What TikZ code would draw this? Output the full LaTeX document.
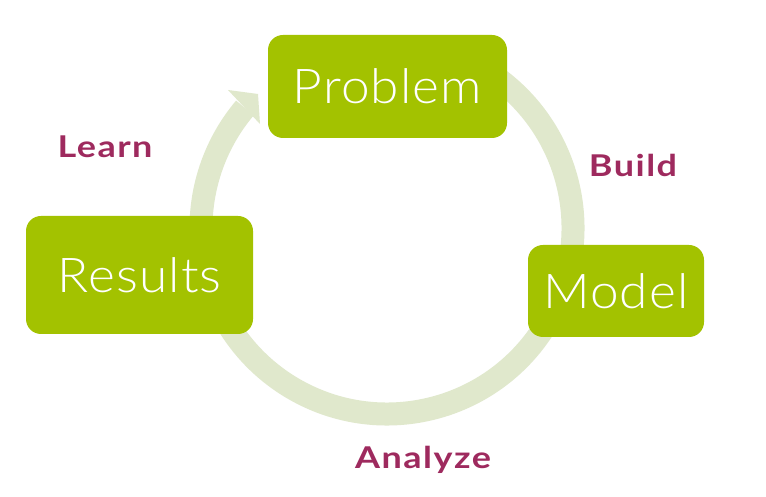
\documentclass[tikz,border=0pt]{standalone}
\usepackage{fontspec}
\setmainfont{Lato}
\newfontfamily\boxfont{Lato Light}[FakeStretch=1.07, LetterSpace=2.5]
\newfontfamily\labelfont{Lato Bold}[FakeStretch=1.2, LetterSpace=5]
\definecolor{boxgreen}{RGB}{163,194,0}
\definecolor{ringgreen}{RGB}{224,232,204}
\definecolor{labelred}{RGB}{158,42,94}
\begin{document}
\begin{tikzpicture}[x=1pt,y=1pt,
  stagebox/.style={rectangle, rounded corners=15pt, fill=boxgreen, text=white,
    inner sep=0pt, font=\boxfont\fontsize{48}{48}\selectfont},
  steplabel/.style={text=labelred, inner sep=0pt, anchor=base,
    font=\labelfont\fontsize{30}{30}\selectfont}]
\useasboundingbox (0,0) rectangle (766,497);
\fill[white] (0,0) rectangle (766,497);
\coordinate (ctr) at (387,269);
% ring
\draw[ringgreen, line width=23pt] (ctr) ++(60:186) arc[start angle=60, end angle=-220.2, radius=186];
\coordinate (barbout) at (228,407);
\coordinate (tip) at (258,403);
\coordinate (barbin) at (260,373);
\fill[ringgreen] (barbout) -- (tip) -- (barbin) -- cycle;
% boxes
\node[stagebox, minimum width=239pt, minimum height=103pt] (problem) at (387.5,410.5) {Problem};
\node[stagebox, minimum width=176pt, minimum height=92pt] (model) at (616,206) {Model};
\node[stagebox, minimum width=227pt, minimum height=118pt] (results) at (139.5,222) {Results};
% labels
\node[steplabel] (learn) at (105,339) {Learn};
\node[steplabel] (build) at (633,320) {Build};
\node[steplabel] (analyze) at (423,28) {Analyze};
\end{tikzpicture}
\end{document}
